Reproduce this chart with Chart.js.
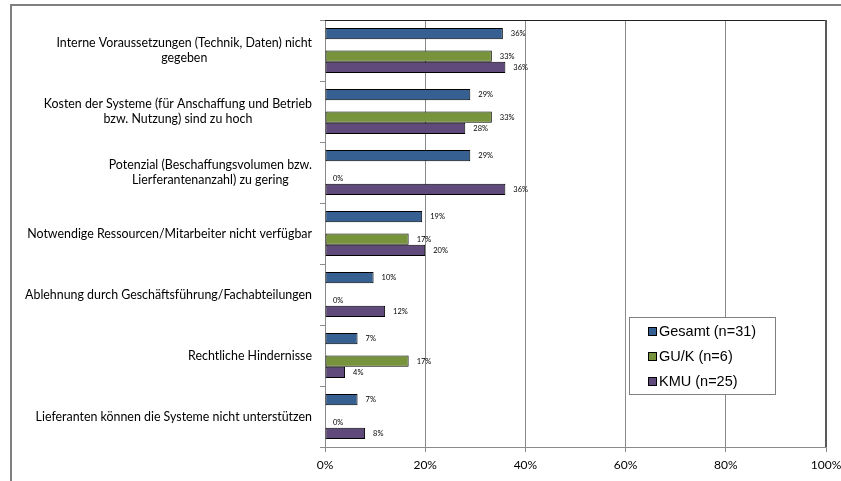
<!DOCTYPE html>
<html>
<head>
<meta charset="utf-8">
<script src="https://cdn.jsdelivr.net/npm/chart.js@4"></script>
<style>
  body { margin: 0; background: #fff; }
  #wrap { width: 841px; height: 481px; }
</style>
</head>
<body>
<div id="wrap"><canvas id="chart"></canvas></div>
<script>
const categories = [
  ['Interne Voraussetzungen (Technik, Daten) nicht', 'gegeben'],
  ['Kosten der Systeme (für Anschaffung und Betrieb', 'bzw. Nutzung) sind zu hoch'],
  ['Potenzial (Beschaffungsvolumen bzw.', 'Lierferantenanzahl) zu gering'],
  'Notwendige Ressourcen/Mitarbeiter nicht verfügbar',
  'Ablehnung durch Geschäftsführung/Fachabteilungen',
  'Rechtliche Hindernisse',
  'Lieferanten können die Systeme nicht unterstützen'
];
const gesamt = [35.5, 29.0, 29.0, 19.4, 9.7, 6.5, 6.5];
const guk = [33.3, 33.3, 0, 16.7, 0, 16.7, 0];
const kmu = [36, 28, 36, 20, 12, 4, 8];
const blank = [null, null, null, null, null, null, null];
const xTicks = [0, 20, 40, 60, 80, 100];

const seriesNames = ['Gesamt (n=31)', '', 'GU/K (n=6)', 'KMU (n=25)'];
const seriesColors = ['#376092', 'rgba(0,0,0,0)', '#77933C', '#604A7B'];

const labelFont = '12.4px Lato';

// frame, plot border, category labels
const framePlugin = {
  id: 'frame',
  beforeDraw(chart) {
    const c = chart.ctx;
    c.save();
    c.fillStyle = '#fff';
    c.fillRect(0, 0, chart.width, chart.height);
    c.strokeStyle = '#7f7f7f';
    c.lineWidth = 2;
    c.beginPath();
    c.moveTo(11, 481);
    c.lineTo(11, 5);
    c.lineTo(841, 5);
    c.stroke();
    c.restore();
  },
  afterDraw(chart) {
    const c = chart.ctx;
    const a = chart.chartArea;
    c.save();
    c.strokeStyle = '#222';
    c.lineWidth = 1;
    c.beginPath();
    c.moveTo(a.left, a.top + 0.5);
    c.lineTo(a.right, a.top + 0.5);
    c.stroke();
    c.strokeStyle = '#595959';
    c.lineWidth = 2;
    c.beginPath();
    c.moveTo(a.right, a.top);
    c.lineTo(a.right, a.bottom);
    c.stroke();

    // category labels: right-aligned block, lines centred to each other
    const y = chart.scales.y;
    c.font = labelFont;
    c.fillStyle = '#000';
    c.textBaseline = 'middle';
    c.textAlign = 'center';
    const right = a.left - 13;
    const lh = 15;
    categories.forEach((lab, i) => {
      const lines = Array.isArray(lab) ? lab : [lab];
      const w = Math.max(...lines.map(l => c.measureText(l).width));
      const cx = right - w / 2;
      const cy = y.getPixelForValue(i);
      lines.forEach((l, k) => {
        c.fillText(l, cx, cy + (k - (lines.length - 1) / 2) * lh);
      });
    });
    c.restore();
  }
};

// value labels next to the bars
const valuePlugin = {
  id: 'values',
  afterDatasetsDraw(chart) {
    const c = chart.ctx;
    c.save();
    c.font = '7.5px Lato';
    c.fillStyle = '#000';
    c.textAlign = 'left';
    c.textBaseline = 'middle';
    chart.data.datasets.forEach((ds, i) => {
      if (!ds.label) return;
      chart.getDatasetMeta(i).data.forEach((bar, j) => {
        const v = ds.data[j];
        if (v === null) return;
        c.fillText(Math.round(v) + '%', bar.x + 8, bar.y);
      });
    });
    c.restore();
  }
};

// legend box inside the plot
const legendPlugin = {
  id: 'boxLegend',
  afterDraw(chart) {
    const c = chart.ctx;
    const a = chart.chartArea;
    const x0 = a.left + 304, y0 = a.top + 297, w = 146, h = 77;
    c.save();
    c.fillStyle = '#fff';
    c.fillRect(x0, y0, w, h);
    c.strokeStyle = '#808080';
    c.lineWidth = 1;
    c.strokeRect(x0 + 0.5, y0 + 0.5, w, h);
    c.font = '14.5px "Liberation Sans"';
    c.textBaseline = 'middle';
    c.textAlign = 'left';
    let row = 0;
    chart.data.datasets.forEach(ds => {
      if (!ds.label) return;
      const cy = y0 + 15 + row * 25;
      c.fillStyle = ds.backgroundColor;
      c.fillRect(x0 + 19, cy - 5, 9, 9);
      c.strokeStyle = '#000';
      c.strokeRect(x0 + 19.5, cy - 4.5, 8, 8);
      c.fillStyle = '#000';
      c.fillText(ds.label, x0 + 30, cy);
      row++;
    });
    c.restore();
  }
};

new Chart(document.getElementById('chart'), {
  type: 'bar',
  data: {
    labels: categories,
    datasets: [gesamt, blank, guk, kmu].map((d, i) => ({
      label: seriesNames[i],
      data: d,
      backgroundColor: seriesColors[i],
      borderColor: '#000',
      borderWidth: 1,
      borderSkipped: false,
      barPercentage: 1,
      categoryPercentage: 0.74
    }))
  },
  options: {
    indexAxis: 'y',
    responsive: true,
    maintainAspectRatio: false,
    animation: false,
    layout: { padding: { top: 20, right: 15, left: 0, bottom: 0 } },
    plugins: {
      legend: { display: false },
      tooltip: { enabled: false }
    },
    scales: {
      x: {
        min: 0,
        max: 100,
        afterBuildTicks: s => { s.ticks = xTicks.map(v => ({ value: v })); },
        ticks: {
          callback: v => v + '%',
          font: { family: 'Lato', size: 12 },
          color: '#000',
          padding: 6,
          maxRotation: 0
        },
        grid: { color: '#8a8a8a', tickLength: 5, tickColor: '#8a8a8a' },
        border: { color: '#8a8a8a' },
        afterFit: s => { s.height = 34; s.paddingLeft = 0; s.paddingRight = 0; }
      },
      y: {
        ticks: { display: false },
        grid: { offset: true, drawOnChartArea: false, tickLength: 5, color: '#8a8a8a' },
        border: { color: '#8a8a8a' },
        afterFit: s => { s.width = 325; }
      }
    }
  },
  plugins: [framePlugin, valuePlugin, legendPlugin]
});
</script>
</body>
</html>
